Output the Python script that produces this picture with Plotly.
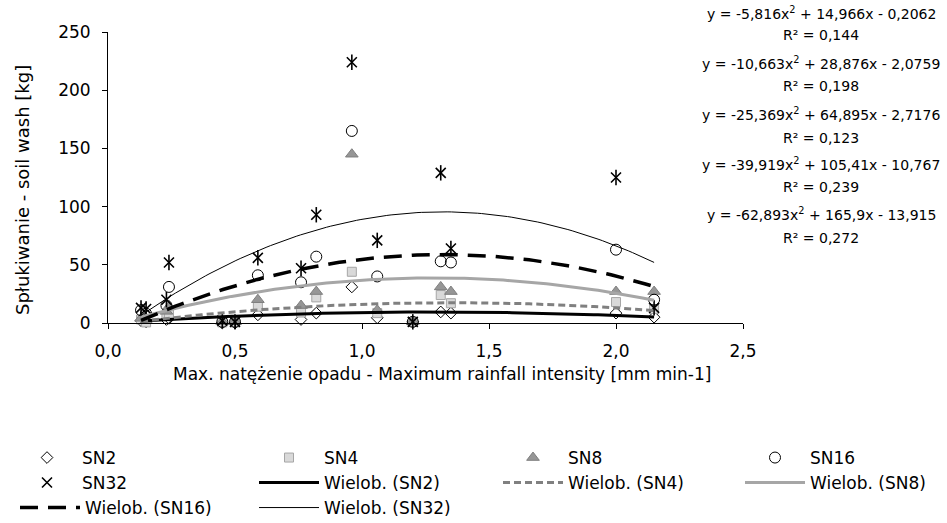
import plotly.graph_objects as go
import numpy as np

# ---- data ----
intensity = [0.13, 0.15, 0.23, 0.24, 0.45, 0.50, 0.59, 0.76, 0.82, 0.96, 1.06, 1.20, 1.31, 1.35, 2.00, 2.15]
sn2  = [2, 1, 3, 4, 0, 0, 7, 3, 8.5, 31, 4.5, 1, 9.5, 8.5, 8.5, 5]
sn4  = [3, 0.5, 6, 8, 0.5, 0.5, 14, 9, 22, 44, 8.5, 1, 24, 17, 18, 12]
sn8  = [4, 2, 10, 14, 1, 1, 20, 15, 27, 145, 11, 1, 31, 27, 27, 27]
sn16 = [11, 8, 15, 31, 1, 1, 41, 35, 57, 165, 40, 1, 53, 52, 63, 20]
sn32 = [13, 12, 20, 52, 2, 1, 56, 47, 93, 224, 71, 1, 129, 64, 125, 13]

series_names = ["SN2", "SN4", "SN8", "SN16", "SN32"]
# polynomial trend coefficients as printed on the chart (y = a x^2 + b x + c)
coef_a = [-5.816, -10.663, -25.369, -39.919, -62.893]
coef_b = [14.966, 28.876, 64.895, 105.41, 165.9]
coef_c = [-0.2062, -2.0759, -2.7176, -10.767, -13.915]
r2_vals = [0.144, 0.198, 0.123, 0.239, 0.272]

x_ticks = [0.0, 0.5, 1.0, 1.5, 2.0, 2.5]
y_ticks = [0, 50, 100, 150, 200, 250]

W, H = 947, 523
L, R, T, B = 108, 204, 32, 200
PW, PH = W - L - R, H - T - B

def px2paper_x(px):
    return (px - L) / PW

def px2paper_y(py):
    return (H - B - py) / PH

FONT = "DejaVu Sans"
fig = go.Figure()

values = [sn2, sn4, sn8, sn16, sn32]
marker_styles = [
    dict(symbol="diamond-open", size=9, color="black", line=dict(color="black", width=1)),
    dict(symbol="square", size=9, color="#d9d9d9", line=dict(color="#a6a6a6", width=1)),
    dict(symbol="triangle-up", size=11, color="#969696", line=dict(color="#7f7f7f", width=1)),
    dict(symbol="circle-open", size=11, color="black", line=dict(color="black", width=1)),
    dict(symbol="x-thin-open", size=10, color="black", line=dict(color="black", width=1.6)),
]
marker_legends = ["legend", "legend2", "legend3", "legend4", "legend5"]

for name, vals, ms, lg in zip(series_names, values, marker_styles, marker_legends):
    fig.add_trace(go.Scatter(x=intensity, y=vals, mode="markers", name=name,
                             marker=ms, legend=lg, cliponaxis=False, showlegend=True))
    if name == "SN32":
        fig.add_trace(go.Scatter(x=intensity, y=vals, mode="markers", name=name,
                                 marker=dict(symbol="line-ns-open", size=11, color="black",
                                             line=dict(color="black", width=1.6)),
                                 legend=lg, showlegend=False, cliponaxis=False))

line_styles = [
    dict(color="black", width=3),
    dict(color="#808080", width=3, dash="7px,4px"),
    dict(color="#a6a6a6", width=3),
    dict(color="black", width=3.5, dash="18px,10px"),
    dict(color="black", width=1),
]
line_legends = ["legend6", "legend7", "legend8", "legend9", "legend10"]
xt = np.linspace(min(intensity), max(intensity), 120)
for name, a, b, c, ls, lg in zip(series_names, coef_a, coef_b, coef_c, line_styles, line_legends):
    yt = a * xt ** 2 + b * xt + c
    fig.add_trace(go.Scatter(x=xt, y=yt, mode="lines", name=f"Wielob. ({name})",
                             line=ls, legend=lg, hoverinfo="skip", showlegend=True))

# legend placement (text start x, row y) in pixels, one legend per cell
legend_cells = {
    "legend":  (82, 458),   # SN2
    "legend2": (324, 458),  # SN4
    "legend3": (568, 458),  # SN8
    "legend4": (810, 458),  # SN16
    "legend5": (82, 483),   # SN32
    "legend6": (324, 483),  # Wielob. SN2
    "legend7": (568, 483),  # Wielob. SN4
    "legend8": (810, 483),  # Wielob. SN8
    "legend9": (85, 508),   # Wielob. SN16
    "legend10": (324, 508), # Wielob. SN32
}
legend_layout = {}
for key, (tx, ty) in legend_cells.items():
    left = tx - 70
    legend_layout[key] = dict(
        xref="container", yref="container",
        x=max(left, 0) / W, y=1 - ty / H, xanchor="left", yanchor="middle",
        bgcolor="rgba(0,0,0,0)", borderwidth=0, itemwidth=60,
        font=dict(family=FONT, size=17, color="black"),
        itemclick=False, itemdoubleclick=False, visible=True,
    )

def fmt(v):
    return repr(abs(v)).replace(".", ",")

annotations = []
eq_rows = [(13, 35), (63, 86), (114, 138), (164, 187), (214, 238)]
for (ye, yr), a, b, c, r2 in zip(eq_rows, coef_a, coef_b, coef_c, r2_vals):
    sa = ("-" if a < 0 else "") + fmt(a)
    sb = (" + " if b >= 0 else " - ") + fmt(b)
    sc = (" + " if c >= 0 else " - ") + fmt(c)
    eq = f"y = {sa}x<sup>2</sup>{sb}x{sc}"
    annotations.append(dict(text=eq, xref="paper", yref="paper",
                            x=px2paper_x(821), y=px2paper_y(ye), xanchor="center", yanchor="middle",
                            showarrow=False, font=dict(family=FONT, size=14, color="black")))
    annotations.append(dict(text=f"R² = {fmt(r2)}", xref="paper", yref="paper",
                            x=px2paper_x(821), y=px2paper_y(yr), xanchor="center", yanchor="middle",
                            showarrow=False, font=dict(family=FONT, size=14, color="black")))

annotations.append(dict(text="Max. natężenie opadu - Maximum rainfall intensity [mm min-1]",
                        xref="paper", yref="paper", x=px2paper_x(442), y=px2paper_y(374),
                        xanchor="center", yanchor="middle", showarrow=False,
                        font=dict(family=FONT, size=17, color="black")))
annotations.append(dict(text="Spłukiwanie - soil wash [kg]",
                        xref="paper", yref="paper", x=px2paper_x(22), y=px2paper_y(190),
                        xanchor="center", yanchor="middle", showarrow=False, textangle=-90,
                        font=dict(family=FONT, size=18, color="black")))

fig.update_layout(
    width=W, height=H,
    margin=dict(l=L, r=R, t=T, b=B, pad=0, autoexpand=False),
    paper_bgcolor="white", plot_bgcolor="white",
    separators=", ",
    showlegend=True,
    font=dict(family=FONT, size=17, color="black"),
    annotations=annotations,
    **legend_layout,
)
fig.update_xaxes(range=[0, 2.5], tickvals=x_ticks, tickformat=".1f",
                 showgrid=False, zeroline=False, showline=True, linecolor="black", linewidth=1,
                 ticks="outside", ticklen=5, tickcolor="black", tickwidth=1,
                 ticklabelstandoff=8, automargin=False,
                 tickfont=dict(family=FONT, size=17, color="black"))
fig.update_yaxes(range=[0, 250], tickvals=y_ticks,
                 showgrid=False, zeroline=False, showline=True, linecolor="black", linewidth=1,
                 ticks="outside", ticklen=5, tickcolor="black", tickwidth=1,
                 ticklabelstandoff=8, automargin=False,
                 tickfont=dict(family=FONT, size=17, color="black"))

fig.write_html("out.html")
